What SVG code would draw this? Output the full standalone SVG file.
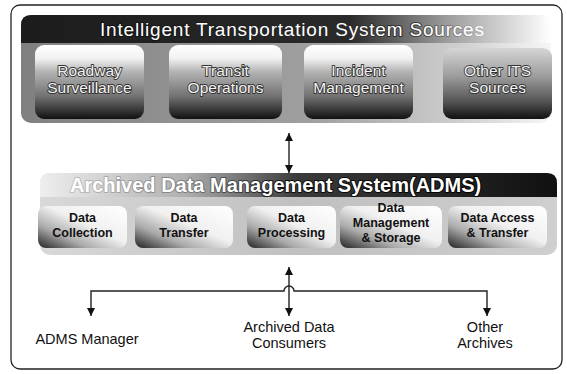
<svg xmlns="http://www.w3.org/2000/svg" width="567" height="374" viewBox="0 0 567 374">
<defs>
<linearGradient id="itsBand" x1="0" y1="0" x2="1" y2="0">
<stop offset="0" stop-color="#1c1c1c"/><stop offset="0.62" stop-color="#2a2a2a"/><stop offset="0.8" stop-color="#9a9a9a"/><stop offset="1" stop-color="#ffffff"/>
</linearGradient>
<linearGradient id="itsBody" x1="0" y1="0" x2="1" y2="0">
<stop offset="0" stop-color="#808080"/><stop offset="0.55" stop-color="#a0a0a0"/><stop offset="0.82" stop-color="#cdcdcd"/><stop offset="1" stop-color="#f6f6f6"/>
</linearGradient>
<linearGradient id="boxG" x1="0" y1="0" x2="0" y2="1">
<stop offset="0" stop-color="#ffffff"/><stop offset="0.18" stop-color="#f2f2f2"/><stop offset="0.36" stop-color="#b4b4b4"/><stop offset="0.7" stop-color="#707070"/><stop offset="1" stop-color="#111111"/>
</linearGradient>
<linearGradient id="otherG" x1="0" y1="0" x2="0" y2="1">
<stop offset="0" stop-color="#d6d6d6"/><stop offset="0.4" stop-color="#9c9c9c"/><stop offset="0.75" stop-color="#555555"/><stop offset="1" stop-color="#111111"/>
</linearGradient>
<linearGradient id="admsBand" x1="0" y1="0" x2="1" y2="0">
<stop offset="0" stop-color="#eeeeee"/><stop offset="0.28" stop-color="#b0b0b0"/><stop offset="0.5" stop-color="#3a3a3a"/><stop offset="1" stop-color="#111111"/>
</linearGradient>
<linearGradient id="admsBody" x1="0" y1="0" x2="1" y2="0">
<stop offset="0" stop-color="#d8d8d8"/><stop offset="0.5" stop-color="#c0c0c0"/><stop offset="1" stop-color="#cfcfcf"/>
</linearGradient>
<linearGradient id="subG" x1="1" y1="0" x2="0" y2="1">
<stop offset="0" stop-color="#ffffff"/><stop offset="0.45" stop-color="#f0f0f0"/><stop offset="0.72" stop-color="#aaaaaa"/><stop offset="1" stop-color="#222222"/>
</linearGradient>
<linearGradient id="ttlStroke" gradientUnits="userSpaceOnUse" x1="100" y1="0" x2="490" y2="0">
<stop offset="0" stop-color="#111"/><stop offset="0.8" stop-color="#333"/><stop offset="1" stop-color="#c8c8c8"/>
</linearGradient>
<linearGradient id="admsStroke" gradientUnits="userSpaceOnUse" x1="70" y1="0" x2="480" y2="0">
<stop offset="0" stop-color="#c0c0c0"/><stop offset="0.3" stop-color="#777"/><stop offset="0.5" stop-color="#111"/><stop offset="1" stop-color="#000"/>
</linearGradient>
<marker id="ah" viewBox="0 0 10 10" refX="10" refY="5" markerWidth="9" markerHeight="8" markerUnits="userSpaceOnUse" orient="auto-start-reverse">
<path d="M0,0 L10,5 L0,10 z" fill="#111"/>
</marker>
</defs>
<style>
.frame{fill:#fff;stroke:#222;stroke-width:1.3}
.box{stroke:none}
.ttl{font-family:"Liberation Sans",Arial,sans-serif;font-size:19px;fill:#fff;stroke:url(#ttlStroke);stroke-width:2.2;paint-order:stroke;stroke-linejoin:round}
.admsT{font-family:"Liberation Sans",Arial,sans-serif;font-size:20px;font-weight:bold;fill:#fff;stroke:url(#admsStroke);stroke-width:2;paint-order:stroke;stroke-linejoin:round}
.lbl{font-family:"Liberation Sans",Arial,sans-serif;font-size:15.5px;fill:#f4f4f4;stroke:#333;stroke-width:1.8;paint-order:stroke;stroke-linejoin:round;text-anchor:middle}
.sub{font-family:"Liberation Sans",Arial,sans-serif;font-size:12.5px;font-weight:bold;fill:#111;text-anchor:middle}
.out{font-family:"Liberation Sans",Arial,sans-serif;font-size:14.5px;fill:#111;text-anchor:middle}
.con{fill:none;stroke:#222;stroke-width:1.4}
</style>
<rect width="567" height="374" fill="#fff"/>
<rect class="frame" x="11" y="5" width="551" height="364" rx="9"/>

<g id="its">
<rect x="21" y="15" width="530" height="108" rx="10" fill="url(#itsBody)"/>
<path d="M21,43 V25 Q21,15 31,15 H541 Q551,15 551,25 V43 Z" fill="url(#itsBand)"/>
<text class="ttl" x="100" y="36" textLength="384">Intelligent Transportation System Sources</text>
</g>
<g id="roadway">
<rect class="box" x="35" y="45" width="109" height="74" rx="9" fill="url(#boxG)"/>
<text class="lbl" x="89.5" y="76">Roadway</text>
<text class="lbl" x="89.5" y="93">Surveillance</text>
</g>
<g id="transit">
<rect class="box" x="169" y="45" width="113" height="74" rx="9" fill="url(#boxG)"/>
<text class="lbl" x="225.5" y="76">Transit</text>
<text class="lbl" x="225.5" y="93">Operations</text>
</g>
<g id="incident">
<rect class="box" x="304" y="45" width="109" height="74" rx="9" fill="url(#boxG)"/>
<text class="lbl" x="358.5" y="76">Incident</text>
<text class="lbl" x="358.5" y="93">Management</text>
</g>
<g id="otherits">
<rect class="box" x="443" y="48" width="109" height="71" rx="9" fill="url(#otherG)"/>
<text class="lbl" x="497.5" y="76">Other ITS</text>
<text class="lbl" x="497.5" y="93">Sources</text>
</g>

<g id="adms">
<rect x="40" y="173" width="517" height="82" rx="10" fill="url(#admsBody)"/>
<path d="M40,197 V183 Q40,173 50,173 H547 Q557,173 557,183 V197 Z" fill="url(#admsBand)"/>
<text class="admsT" x="70" y="192">Archived Data Management System(ADMS)</text>
</g>
<g id="collection">
<rect class="box" x="38" y="206" width="89" height="42" rx="8" fill="url(#subG)"/>
<text class="sub" x="82.5" y="222">Data</text>
<text class="sub" x="82.5" y="237">Collection</text>
</g>
<g id="transfer">
<rect class="box" x="135" y="206" width="98" height="42" rx="8" fill="url(#subG)"/>
<text class="sub" x="184" y="222">Data</text>
<text class="sub" x="184" y="237">Transfer</text>
</g>
<g id="processing">
<rect class="box" x="247" y="206" width="89" height="42" rx="8" fill="url(#subG)"/>
<text class="sub" x="291.5" y="222">Data</text>
<text class="sub" x="291.5" y="237">Processing</text>
</g>
<g id="management">
<rect class="box" x="340" y="206" width="102" height="42" rx="8" fill="url(#subG)"/>
<text class="sub" x="391" y="212">Data</text>
<text class="sub" x="391" y="227">Management</text>
<text class="sub" x="391" y="242">&amp; Storage</text>
</g>
<g id="access">
<rect class="box" x="448" y="206" width="99" height="42" rx="8" fill="url(#subG)"/>
<text class="sub" x="497.5" y="222">Data Access</text>
<text class="sub" x="497.5" y="237">&amp; Transfer</text>
</g>

<g id="connectors">
<line class="con" x1="289" y1="133" x2="289" y2="173" marker-start="url(#ah)" marker-end="url(#ah)"/>
<line class="con" x1="289" y1="267" x2="289" y2="316" marker-start="url(#ah)" marker-end="url(#ah)"/>
<path class="con" d="M91,316 V291 H284 A5,5 0 0 1 294,291 H487 V316" marker-start="url(#ah)" marker-end="url(#ah)"/>
</g>

<g id="manager"><text class="out" x="87" y="344">ADMS Manager</text></g>
<g id="consumers">
<text class="out" x="289" y="332">Archived Data</text>
<text class="out" x="289" y="348">Consumers</text>
</g>
<g id="archives">
<text class="out" x="485" y="332">Other</text>
<text class="out" x="485" y="348">Archives</text>
</g>
</svg>
